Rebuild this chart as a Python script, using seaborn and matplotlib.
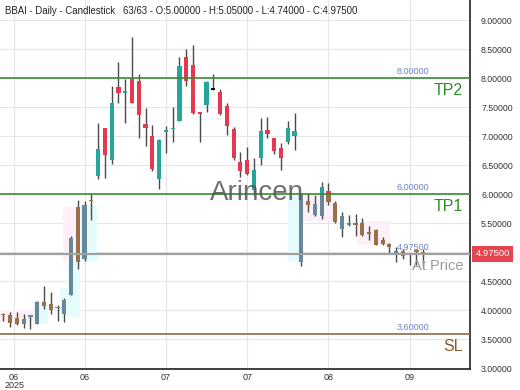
import matplotlib
matplotlib.use("Agg")
import matplotlib.pyplot as plt
import seaborn as sns
import numpy as np
import pandas as pd
from matplotlib.patches import Rectangle

# ---------------- data ----------------
opens = [3.93, 3.92, 3.87, 3.77, 3.89, 3.77, 4.14, 4.11, 4.05, 3.94,
         4.27, 5.79, 4.89, 5.90, 6.31, 7.14, 6.59, 7.85, 7.75, 7.99,
         7.95, 7.21, 7.00, 6.27, 7.08, 7.12, 7.27, 8.37, 8.23, 7.41,
         7.54, 7.80, 7.77, 7.53, 7.13, 6.56, 6.59, 6.07, 6.62, 7.11,
         6.97, 6.80, 6.90, 7.01, 4.84, 5.89, 5.65, 5.62, 6.05, 5.85,
         5.41, 5.48, 5.51, 5.50, 5.35, 5.38, 5.22, 5.15, 4.96, 5.02,
         4.97, 5.02, 5.00]
highs = [3.95, 3.97, 3.97, 3.93, 3.91, 4.17, 4.42, 4.31, 4.10, 4.22,
         5.28, 5.90, 5.89, 6.00, 7.23, 7.15, 7.86, 8.29, 7.98, 8.71,
         8.07, 7.49, 7.20, 6.95, 7.17, 7.50, 8.37, 8.50, 8.58, 7.42,
         7.95, 8.07, 7.81, 7.57, 7.16, 6.73, 6.82, 6.62, 7.32, 7.33,
         6.98, 6.88, 7.26, 7.40, 6.00, 6.02, 5.99, 6.22, 6.19, 5.89,
         5.70, 5.64, 5.66, 5.59, 5.45, 5.40, 5.26, 5.16, 5.09, 5.05,
         4.98, 5.05, 5.05]
lows = [3.81, 3.72, 3.74, 3.70, 3.68, 3.76, 4.02, 3.94, 3.82, 3.80,
        4.26, 4.72, 4.85, 5.56, 6.27, 6.29, 6.53, 7.57, 7.23, 7.57,
        6.97, 6.84, 6.40, 6.10, 6.71, 6.90, 7.26, 7.87, 7.38, 6.91,
        7.42, 7.80, 7.36, 7.03, 6.60, 6.30, 6.33, 5.99, 6.50, 6.97,
        6.69, 6.42, 6.87, 6.77, 4.76, 5.70, 5.62, 5.58, 5.81, 5.50,
        5.26, 5.46, 5.29, 5.29, 5.22, 5.12, 5.13, 4.99, 4.84, 4.88,
        4.78, 4.79, 4.74]
closes = [3.92, 3.78, 3.77, 3.85, 3.90, 4.15, 4.08, 4.00, 4.04, 4.18,
          5.25, 4.83, 5.81, 5.88, 6.78, 6.68, 7.57, 7.74, 7.77, 7.58,
          7.37, 7.15, 6.43, 6.93, 7.10, 7.13, 8.21, 7.95, 7.41, 7.39,
          7.94, 7.80, 7.38, 7.17, 6.63, 6.41, 6.35, 6.42, 7.10, 7.04,
          6.75, 6.63, 7.14, 7.10, 5.99, 5.82, 5.83, 6.13, 5.86, 5.52,
          5.62, 5.49, 5.48, 5.30, 5.32, 5.13, 5.15, 5.09, 5.03, 4.93,
          4.95, 5.01, 4.975]

tick_index = [1.6, 12, 24, 36, 48, 60]
tick_labels = ["06\n2025", "06", "07", "07", "08", "09"]

level_values = [8.0, 6.0, 4.975, 3.6]
level_names = ["TP2", "TP1", "At Price", "SL"]

# highlight boxes: candle-index range and price range
box_x0 = [-0.5, 4.4, 8.4, 8.8, 9.6, 11.3, 42.0, 43.8, 52.2]
box_x1 = [4.5, 6.6, 11.3, 11.3, 11.3, 13.8, 44.3, 48.7, 57.1]
box_lo = [3.78, 3.76, 3.88, 4.85, 4.27, 4.85, 4.85, 5.54, 5.13]
box_hi = [4.00, 4.17, 4.39, 5.79, 4.85, 5.81, 5.98, 5.98, 5.54]
box_kind = ["pink", "cyan", "cyan", "pink", "cyan", "cyan", "cyan", "pink", "pink"]

title = ("BBAI - Daily - Candlestick   63/63 - O:5.00000 - H:5.05000 - "
         "L:4.74000 - C:4.97500")

# ---------------- style ----------------
sns.set_theme(style="whitegrid")
plt.rcParams["font.family"] = ["Liberation Sans", "DejaVu Sans"]

GREEN = "#26a69a"
RED = "#e53950"
MGREEN = "#66879c"
MRED = "#9b6f47"
WICK = "#4a4a4a"
LINE_COLORS = ["#3a8a34", "#3a8a34", "#a0a0a0", "#8b6b4a"]
NAME_COLORS = ["#2f8a2a", "#2f8a2a", "#9a9a9a", "#8b5a2b"]
LEVEL_TXT = "#6f82c8"
BOX_COLORS = {"pink": "#fdf0f8", "cyan": "#e6fcfc"}

df = pd.DataFrame({"o": opens, "h": highs, "l": lows, "c": closes})
df["i"] = np.arange(len(df))

fig = plt.figure(figsize=(5.2, 3.9), dpi=100)
ax = fig.add_axes([0.0, 21 / 390, 470 / 520, 369 / 390])
ax.set_facecolor("white")

XMIN, XMAX = -0.49, 68.9
YMIN, YMAX = 2.99, 9.35
ax.set_xlim(XMIN, XMAX)
ax.set_ylim(YMIN, YMAX)

# highlight boxes
for x0, x1, lo, hi, k in zip(box_x0, box_x1, box_lo, box_hi, box_kind):
    ax.add_patch(Rectangle((x0, lo), x1 - x0, hi - lo, facecolor=BOX_COLORS[k],
                           edgecolor="none", zorder=0.6))

# candles drawn twice: vivid above TP1, muted inside the TP1..SL band
split = level_values[1]
bottoms = np.minimum(df["o"], df["c"])
heights = np.maximum(np.abs(df["c"] - df["o"]), 0.025)

def colors_for(up, down):
    out = []
    for o, c in zip(df["o"], df["c"]):
        out.append(up if c > o else (down if c < o else "#111111"))
    return out

for region, (up, down) in [("top", (GREEN, RED)), ("bot", (MGREEN, MRED))]:
    if region == "top":
        clip = Rectangle((XMIN - 5, split), XMAX - XMIN + 10, 50, transform=ax.transData)
    else:
        clip = Rectangle((XMIN - 5, -50), XMAX - XMIN + 10, 50 + split, transform=ax.transData)
    wk = ax.vlines(df["i"], df["l"], df["h"], color=WICK, lw=1.0, zorder=2)
    wk.set_clip_path(clip)
    bars = ax.bar(df["i"], heights, bottom=bottoms, width=0.62,
                  color=colors_for(up, down), edgecolor="none", zorder=3)
    for b in bars:
        b.set_clip_path(clip)

# level lines
for v, lc in zip(level_values, LINE_COLORS):
    ax.axhline(v, color=lc, lw=1.6 if lc == "#a0a0a0" else 1.2, zorder=4)

xlab = 413 / 470
for v in level_values:
    ax.annotate(f"{v:.5f}", xy=(xlab, v), xycoords=("axes fraction", "data"),
                xytext=(0, 4.6), textcoords="offset points", ha="center", va="center",
                fontsize=6.5, color=LEVEL_TXT, zorder=5)

for v, name, nc in zip(level_values, level_names, NAME_COLORS):
    fs = 10.5 if name == "At Price" else 11.5
    ax.annotate(name, xy=(463 / 470, v), xycoords=("axes fraction", "data"),
                xytext=(0, -9), textcoords="offset points", ha="right", va="center",
                fontsize=fs, color=nc, zorder=5)

# current price tag
ax.annotate(f"{level_values[2]:.5f}", xy=(1.0, level_values[2]),
            xycoords=("axes fraction", "data"), xytext=(4.0, 0),
            textcoords="offset points", ha="left", va="center", fontsize=6.8,
            color="white", annotation_clip=False, zorder=7,
            bbox=dict(boxstyle="square,pad=0.35", fc="#e5454f", ec="none"))

# watermark
ax.text(0.547, 0.478, "Arincen", transform=ax.transAxes, ha="center", va="center",
        fontsize=20, color="#555555", alpha=0.85, zorder=6)

# title
ax.text(5 / 470, 1 - 11 / 369, title, transform=ax.transAxes, ha="left",
        va="center", fontsize=6.9, color="#222222", zorder=6)

# axes
ax.yaxis.tick_right()
yt = np.arange(3.0, 9.01, 0.5)
ax.set_yticks(yt)
# the 5.00000 label sits under the current-price tag in the reference
ax.set_yticklabels(["" if abs(t - 5.0) < 1e-9 else f"{t:.5f}" for t in yt],
                   fontsize=6.3, color="#333333")
ax.set_xticks(tick_index)
ax.set_xticklabels(tick_labels, fontsize=6.5, color="#333333", linespacing=0.9)
ax.tick_params(axis="both", length=0, pad=3)
ax.tick_params(axis="y", pad=8)
ax.grid(True, color="#e6e6e6", lw=0.8)
ax.set_axisbelow(True)
for s in ["left", "top"]:
    ax.spines[s].set_visible(False)
for s in ["right", "bottom"]:
    ax.spines[s].set_visible(True)
    ax.spines[s].set_color("#222222")
    ax.spines[s].set_linewidth(1.2)

fig.savefig("out.png", dpi=100, facecolor="white")
